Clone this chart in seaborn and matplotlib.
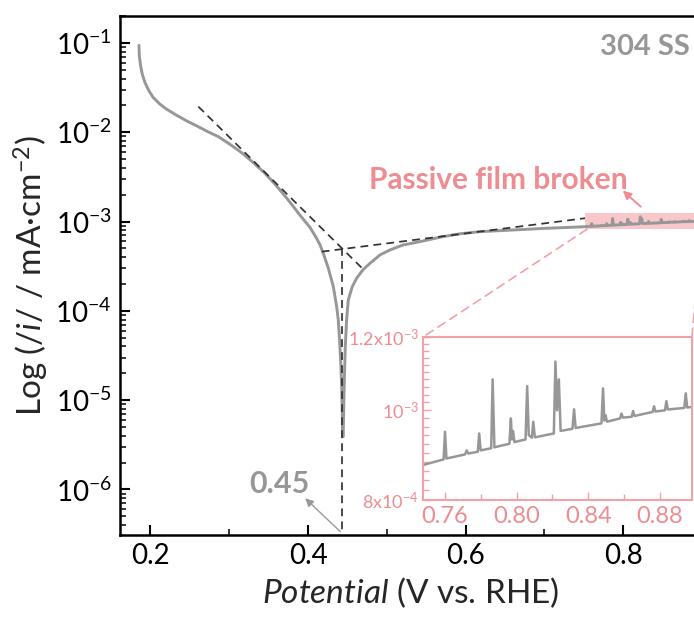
import numpy as np
import pandas as pd
import matplotlib
matplotlib.use("Agg")
import matplotlib.pyplot as plt
import seaborn as sns
from matplotlib.ticker import FixedLocator, MultipleLocator, LogLocator, NullFormatter
from matplotlib.patches import Rectangle, ConnectionPatch

# ---------------- data ----------------
cath_v = [0.1855, 0.1859, 0.1876, 0.1897, 0.1931, 0.1982, 0.2037, 0.2122, 0.2206,
          0.2333, 0.2460, 0.2587, 0.2714, 0.2862, 0.3010, 0.3158, 0.3306, 0.3454,
          0.3602, 0.3750, 0.3898, 0.4025, 0.4100, 0.4152, 0.4194, 0.4258, 0.4321,
          0.4364, 0.4384, 0.4400, 0.4415, 0.4427, 0.4435, 0.4440]
cath_i = [9.4e-2, 7.15e-2, 5.53e-2, 4.46e-2, 3.60e-2, 2.90e-2, 2.44e-2, 2.06e-2, 1.81e-2,
          1.55e-2, 1.34e-2, 1.18e-2, 1.03e-2, 8.93e-3, 7.33e-3, 5.91e-3, 4.57e-3, 3.47e-3,
          2.50e-3, 1.74e-3, 1.18e-3, 8.6e-4, 6.7e-4, 5.5e-4, 4.4e-4, 3.0e-4, 1.87e-4,
          1.11e-4, 7.9e-5, 4.8e-5, 2.7e-5, 1.42e-5, 7.13e-6, 3.9e-6]
anod_v = [0.4446, 0.4452, 0.4461, 0.4473, 0.4490, 0.4511, 0.4560, 0.4617, 0.4700,
          0.4787, 0.4913, 0.5040, 0.5200, 0.5421, 0.5700, 0.5929, 0.6183, 0.6605, 0.7028]
anod_i = [3.9e-6, 7.13e-6, 1.68e-5, 3.97e-5, 8.0e-5, 1.32e-4, 1.85e-4, 2.32e-4, 2.90e-4,
          3.41e-4, 4.23e-4, 4.81e-4, 5.45e-4, 5.96e-4, 6.75e-4, 7.3e-4, 7.71e-4, 8.05e-4, 8.41e-4]
passive_v = [0.7479, 0.7592, 0.7600, 0.7608, 0.7712, 0.7721, 0.7730, 0.7783, 0.7791,
             0.7799, 0.7858, 0.7866, 0.7876, 0.7926, 0.7960, 0.7968, 0.7974, 0.7980,
             0.7988, 0.8050, 0.8059, 0.8068, 0.8085, 0.8093, 0.8102, 0.8208, 0.8217,
             0.8226, 0.8236, 0.8246, 0.8312, 0.8321, 0.8330, 0.8474, 0.8483, 0.8490,
             0.8497, 0.8505, 0.8578, 0.8586, 0.8594, 0.8643, 0.8651, 0.8659, 0.8760,
             0.8768, 0.8776, 0.8829, 0.8837, 0.8845, 0.8937, 0.8945, 0.8953, 0.8988]
passive_i = [8.73e-4, 8.85e-4, 9.48e-4, 8.87e-4, 8.96e-4, 9.05e-4, 8.98e-4, 9.02e-4, 9.44e-4,
             9.05e-4, 9.10e-4, 1.080e-3, 9.12e-4, 9.17e-4, 9.20e-4, 9.80e-4, 9.30e-4, 9.50e-4,
             9.24e-4, 9.30e-4, 1.062e-3, 9.40e-4, 9.34e-4, 9.72e-4, 9.35e-4, 9.44e-4, 1.129e-3,
             1.00e-3, 1.08e-3, 9.50e-4, 9.55e-4, 1.0025e-3, 9.57e-4, 9.68e-4, 1.056e-3, 9.75e-4,
             9.88e-4, 9.72e-4, 9.80e-4, 9.92e-4, 9.82e-4, 9.84e-4, 9.98e-4, 9.86e-4, 9.96e-4,
             1.010e-3, 9.97e-4, 1.000e-3, 1.023e-3, 1.002e-3, 1.006e-3, 1.043e-3, 1.007e-3, 1.009e-3]

tafel_cath_v = [0.2608, 0.4684]
tafel_cath_i = [1.94e-2, 3.02e-4]
tafel_anod_v = [0.4174, 0.7515]
tafel_anod_i = [4.6e-4, 1.09e-3]
e_corr = 0.443
i_corr = 5.0e-4

main_xticks = [0.2, 0.4, 0.6, 0.8]
inset_xticks = [0.76, 0.80, 0.84, 0.88]
inset_xlabels = ["0.76", "0.80", "0.84", "0.88"]
inset_yticks = [8e-4, 1e-3, 1.2e-3]
inset_ylabels = [r"8x10$^{-4}$", r"10$^{-3}$", r"1.2x10$^{-3}$"]

df = pd.DataFrame({"E": cath_v + anod_v + passive_v,
                   "I": cath_i + anod_i + passive_i})
dfp = pd.DataFrame({"E": passive_v, "I": passive_i})

# ---------------- style ----------------
sns.set_theme(style="ticks")
FONT = "Lato"
plt.rcParams["font.family"] = [FONT, "DejaVu Sans"]
plt.rcParams["mathtext.fontset"] = "custom"
plt.rcParams["mathtext.rm"] = FONT
plt.rcParams["mathtext.it"] = FONT + ":italic"
plt.rcParams["mathtext.bf"] = FONT + ":bold"

GRAY = "#979797"
PINK = "#F2A2A7"
PINK_TXT = "#EE8C91"

fig = plt.figure(figsize=(6.94, 6.26), dpi=100)
ax = fig.add_axes([120 / 694, (626 - 535) / 626, 582 / 694, 519 / 626])

sns.lineplot(data=df, x="E", y="I", ax=ax, sort=False, estimator=None,
             color=GRAY, linewidth=2.1, zorder=3)
ax.set_yscale("log")
ax.set_xlim(0.1614, 0.90)
ax.set_ylim(10 ** -6.51, 10 ** -0.698)

# Tafel fits
dash = dict(color="#333333", linewidth=1.25, linestyle=(0, (4.5, 3)), zorder=4)
ax.plot(tafel_cath_v, tafel_cath_i, **dash)
ax.plot(tafel_anod_v, tafel_anod_i, **dash)
ax.plot([e_corr, e_corr], [i_corr, 10 ** -6.51], **dash)

# ticks
ax.xaxis.set_major_locator(FixedLocator(main_xticks))
ax.xaxis.set_minor_locator(MultipleLocator(0.1))
ax.yaxis.set_major_locator(LogLocator(base=10, numticks=12))
ax.yaxis.set_minor_locator(LogLocator(base=10, subs=np.arange(2, 10), numticks=12))
ax.yaxis.set_minor_formatter(NullFormatter())
ax.tick_params(axis="both", which="major", direction="in", length=7, width=1.5,
               labelsize=20, pad=6, colors="black")
ax.tick_params(axis="both", which="minor", direction="in", length=4.5, width=1.3)
ax.tick_params(axis="x", which="both", top=False)
ax.tick_params(axis="y", which="both", right=False)
for s in ax.spines.values():
    s.set_linewidth(1.8)
    s.set_color("black")

ax.set_xlabel(r"$\mathit{Potential}$ (V vs. RHE)", fontsize=24, labelpad=4)
ax.set_ylabel(r"Log ($\mathit{/i/}$ / mA·cm$^{-2}$)", fontsize=24, labelpad=3)

# annotations
ax.text(0.8840, 0.091, "304 SS", ha="right", va="center", fontsize=21,
        fontweight="bold", color=GRAY)
ax.text(0.3632, 1.15e-6, "0.45", ha="center", va="center", fontsize=22,
        fontweight="bold", color=GRAY)
ax.annotate("", xy=(0.3964, 7.96e-7), xytext=(0.4410, 3.37e-7),
            arrowprops=dict(arrowstyle="-|>", color="#9a9a9a", lw=1.0,
                            mutation_scale=12, shrinkA=0, shrinkB=0))
ax.text(0.8060, 2.92e-3, "Passive film broken", ha="right", va="center",
        fontsize=21.5, fontweight="bold", color=PINK_TXT)
ax.annotate("", xy=(0.7995, 2.22e-3), xytext=(0.8222, 1.47e-3),
            arrowprops=dict(arrowstyle="-|>", color=PINK_TXT, lw=1.4,
                            mutation_scale=12, shrinkA=0, shrinkB=0))
ax.add_patch(Rectangle((0.752, 8.2e-4), 0.148, 1.24e-3 - 8.2e-4,
                       facecolor=PINK, alpha=0.6, edgecolor="none", zorder=2))

# ---------------- inset ----------------
axi = fig.add_axes([423 / 694, (626 - 500) / 626, 269 / 694, 163 / 626])
sns.lineplot(data=dfp, x="E", y="I", ax=axi, sort=False, estimator=None,
             color=GRAY, linewidth=1.8)
axi.set_yscale("log")
axi.set_xlim(0.7477, 0.898)
axi.set_ylim(8e-4, 1.2e-3)
axi.xaxis.set_major_locator(FixedLocator(inset_xticks))
axi.xaxis.set_minor_locator(MultipleLocator(0.02))
axi.yaxis.set_major_locator(FixedLocator(inset_yticks))
axi.yaxis.set_minor_locator(MultipleLocator(2e-5))
axi.yaxis.set_minor_formatter(NullFormatter())
axi.set_yticklabels(inset_ylabels)
axi.set_xticklabels(inset_xlabels)
axi.tick_params(axis="both", which="major", direction="in", length=6, width=1.0,
                colors=PINK, labelcolor=PINK_TXT, pad=4)
axi.tick_params(axis="x", which="major", labelsize=17)
axi.tick_params(axis="y", which="major", labelsize=13, pad=3)
axi.tick_params(axis="both", which="minor", direction="in", length=4, width=1.0,
                colors=PINK)
axi.tick_params(axis="x", which="both", top=False)
axi.tick_params(axis="y", which="both", right=False)
axi.set_xlabel("")
axi.set_ylabel("")
for s in axi.spines.values():
    s.set_color(PINK)
    s.set_linewidth(1.5)

for (xa, xb) in [((0.754, 8.2e-4), (0, 1)), ((0.899, 8.2e-4), (1, 1))]:
    con = ConnectionPatch(xyA=xa, coordsA=ax.transData, xyB=xb, coordsB=axi.transAxes,
                          color=PINK, linestyle=(0, (5, 3.5)), linewidth=1.2)
    fig.add_artist(con)

fig.savefig("out.png", dpi=100)
